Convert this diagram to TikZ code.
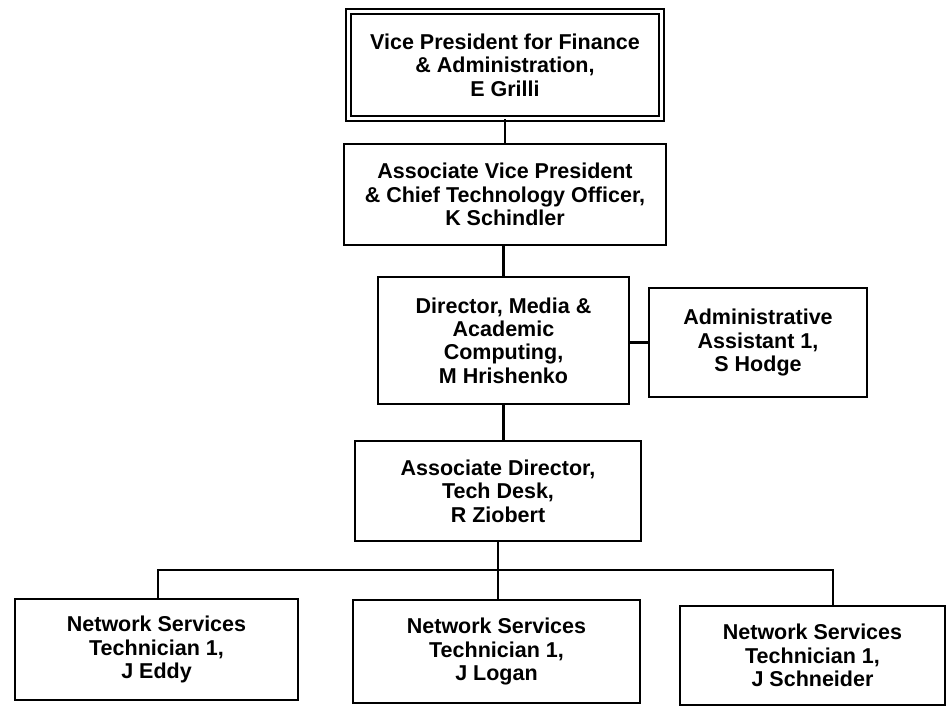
\documentclass[tikz,border=0pt]{standalone}
\usepackage{fontspec}
\setmainfont{Liberation Sans}
\usetikzlibrary{calc}
\tikzset{
  orgbox/.style={draw=black, line width=2.6pt, inner sep=0pt, align=center,
    font=\fontsize{21.5}{23.4}\selectfont\bfseries, fill=white},
  link/.style={draw=black, line width=2.1pt},
}
\begin{document}
\begin{tikzpicture}[x=1pt,y=-1pt]
\useasboundingbox[fill=white] (0,0) rectangle (948,706);
\node[orgbox, double, line width=2pt, double distance=3.3pt,
  minimum width=313pt, minimum height=107pt] (vp) at (505,65)
  {Vice President for Finance\\ \& Administration,\\ E Grilli};
\node[orgbox, minimum width=322pt, minimum height=101pt] (avp) at (505,194.5)
  {Associate Vice President\\ \& Chief Technology Officer,\\ K Schindler};
\node[orgbox, minimum width=251pt, minimum height=127pt] (dir) at (503.5,340.5)
  {Director, Media \&\\ Academic\\ Computing,\\ M Hrishenko};
\node[orgbox, minimum width=218pt, minimum height=109pt] (adm) at (758,342.5)
  {Administrative\\ Assistant 1,\\ S Hodge};
\node[orgbox, minimum width=286pt, minimum height=100pt] (ad) at (498,491)
  {Associate Director,\\ Tech Desk,\\ R Ziobert};
\node[orgbox, minimum width=283pt, minimum height=101pt] (t1) at (156.5,649.5)
  {Network Services\\ Technician 1,\\ J Eddy};
\node[orgbox, minimum width=287pt, minimum height=103pt] (t2) at (496.5,651.5)
  {Network Services\\ Technician 1,\\ J Logan};
\node[orgbox, minimum width=265pt, minimum height=99pt] (t3) at (812.5,655.5)
  {Network Services\\ Technician 1,\\ J Schneider};
\coordinate (busL) at (158,570);
\coordinate (busR) at (833,570);
\draw[link] (vp.south) -- (avp.north);
\draw[link] (dir.north) -- (dir.north |- avp.south);
\draw[link] (adm.west) -- (adm.west -| dir.east);
\draw[link] (dir.south) -- (dir.south |- ad.north);
\draw[link] (ad.south) -- (ad.south |- t2.north);
\draw[link] (busL |- t1.north) -- (busL) -- (busR) -- (busR |- t3.north);
\end{tikzpicture}
\end{document}
